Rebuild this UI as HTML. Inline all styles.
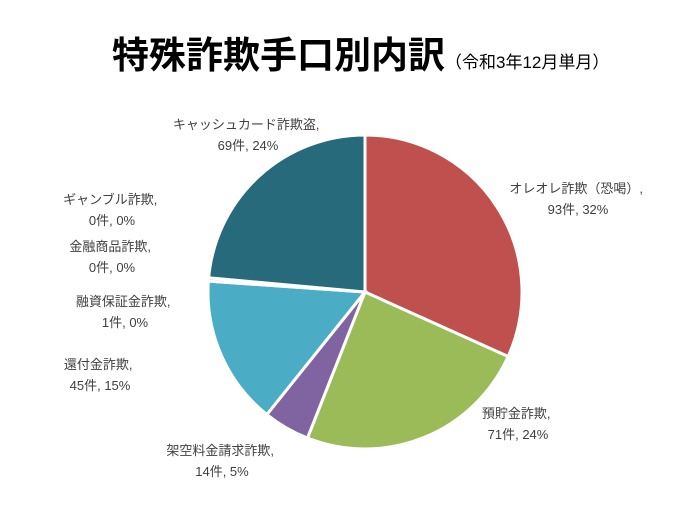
<!DOCTYPE html>
<html><head><meta charset="utf-8"><style>
body{margin:0;background:#fff;width:696px;height:515px;overflow:hidden;font-family:"Liberation Sans","Noto Sans CJK JP",sans-serif}
</style></head><body>
<svg width="696" height="515" xmlns="http://www.w3.org/2000/svg" style="font-family:'Liberation Sans','Noto Sans CJK JP',sans-serif">
<text x="112" y="68" font-size="37" font-weight="bold" fill="#000">特殊詐欺手口別内訳<tspan font-size="17" font-weight="normal">（令和3年12月単月）</tspan></text>
<g id="slices"></g>
<g id="labels" font-size="13" fill="#404040"></g>
</svg>
<script>
const categories=["オレオレ詐欺（恐喝）","預貯金詐欺","架空料金請求詐欺","還付金詐欺","融資保証金詐欺","ギャンブル詐欺","金融商品詐欺","キャッシュカード詐欺盗"];
const counts=[93,71,14,45,1,0,0,69];
const percentLabels=["32%","24%","5%","15%","0%","0%","0%","24%"];
const colors=["#C0504D","#9BBB59","#8064A2","#4BACC6","#F79646","#2C4D75","#772C2A","#276A7C"];
const labelPos=[[578,193,"middle"],[518,418,"middle"],[222,455,"middle"],[100,369,"middle"],[125,306,"middle"],[112,204,"middle"],[112,251,"middle"],[248,129,"middle"]];
const cx=365,cy=292,r=157;
const total=counts.reduce((a,b)=>a+b,0);
const ns="http://www.w3.org/2000/svg";
const g=document.getElementById('slices'),lg=document.getElementById('labels');
let a0=0;
counts.forEach((v,i)=>{
  const a1=a0+v/total*2*Math.PI;
  if(v>0){
    const p=document.createElementNS(ns,'path');
    const x0=cx+r*Math.sin(a0),y0=cy-r*Math.cos(a0),x1=cx+r*Math.sin(a1),y1=cy-r*Math.cos(a1);
    p.setAttribute('d',`M${cx},${cy}L${x0},${y0}A${r},${r} 0 ${a1-a0>Math.PI?1:0} 1 ${x1},${y1}Z`);
    p.setAttribute('fill',colors[i]);p.setAttribute('stroke','#fff');p.setAttribute('stroke-width','3');
    
    
    g.appendChild(p);
  }
  a0=a1;
  const [lx,ly,anc]=labelPos[i];
  const t=document.createElementNS(ns,'text');
  
  
  t.setAttribute('text-anchor',anc);
  const s1=document.createElementNS(ns,'tspan');s1.setAttribute('x',lx);s1.setAttribute('y',ly);s1.textContent=categories[i]+", ";
  const s2=document.createElementNS(ns,'tspan');s2.setAttribute('x',lx);s2.setAttribute('y',ly+21);s2.textContent=counts[i]+"件, "+percentLabels[i];
  t.appendChild(s1);t.appendChild(s2);lg.appendChild(t);
});
</script>
</body></html>
